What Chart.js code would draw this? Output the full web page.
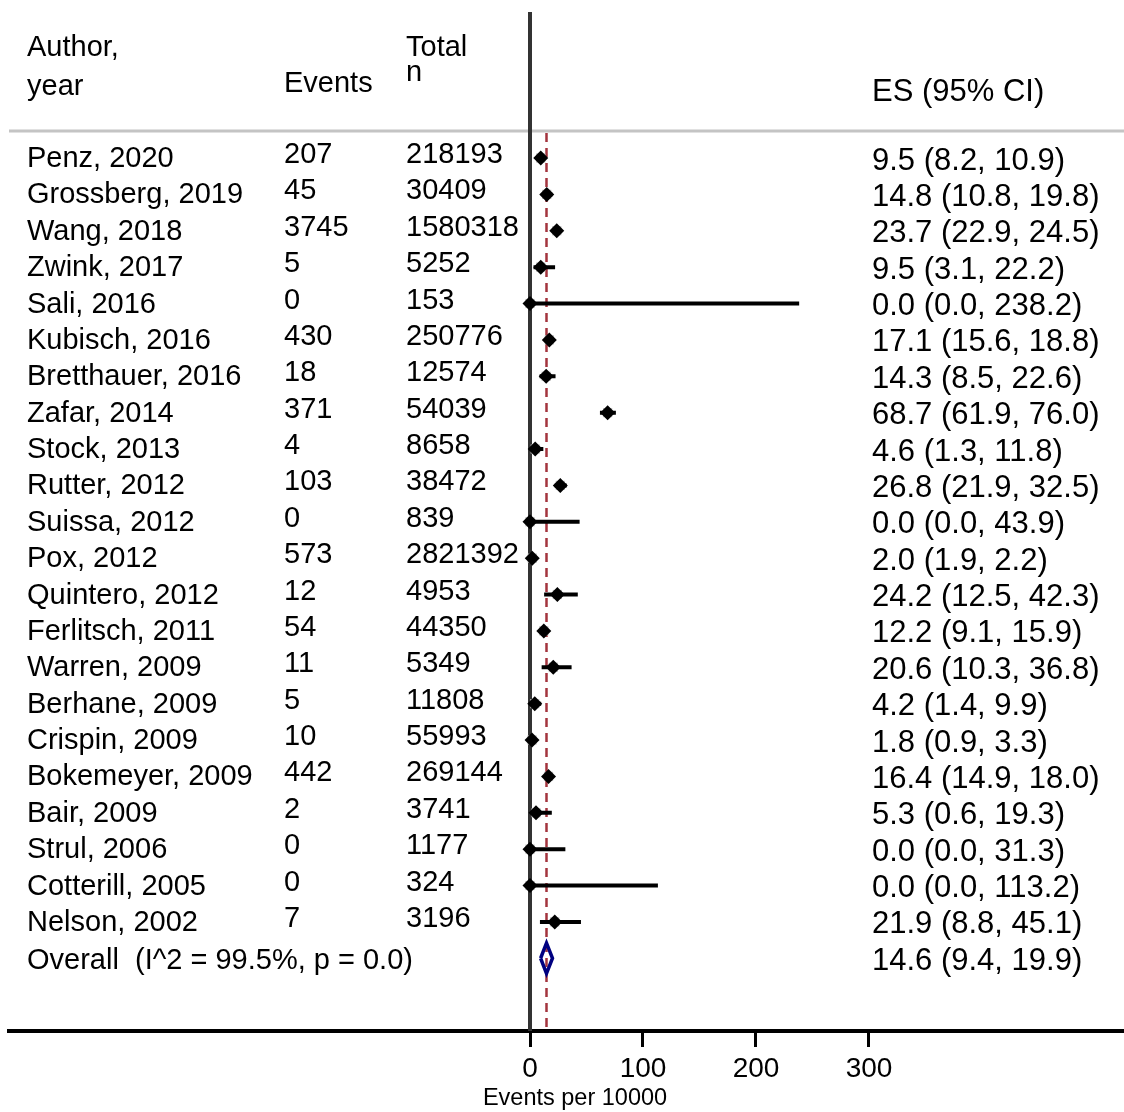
<!DOCTYPE html>
<html>
<head>
<meta charset="utf-8">
<script src="https://cdn.jsdelivr.net/npm/chart.js@4.4.1/dist/chart.umd.min.js"></script>
<style>
  html, body { margin: 0; padding: 0; background: #fff; overflow: hidden; }
  #wrap { width: 1124px; height: 1112px; }
  canvas { display: block; }
</style>
</head>
<body>
<div id="wrap"><canvas id="forest" width="1124" height="1112"></canvas></div>
<script>
// Dados do forest plot
const autores = ["Penz, 2020", "Grossberg, 2019", "Wang, 2018", "Zwink, 2017", "Sali, 2016",
  "Kubisch, 2016", "Bretthauer, 2016", "Zafar, 2014", "Stock, 2013", "Rutter, 2012",
  "Suissa, 2012", "Pox, 2012", "Quintero, 2012", "Ferlitsch, 2011", "Warren, 2009",
  "Berhane, 2009", "Crispin, 2009", "Bokemeyer, 2009", "Bair, 2009", "Strul, 2006",
  "Cotterill, 2005", "Nelson, 2002"];
const eventos = [207, 45, 3745, 5, 0, 430, 18, 371, 4, 103, 0, 573, 12, 54, 11, 5, 10, 442, 2, 0, 0, 7];
const totais = [218193, 30409, 1580318, 5252, 153, 250776, 12574, 54039, 8658, 38472, 839,
  2821392, 4953, 44350, 5349, 11808, 55993, 269144, 3741, 1177, 324, 3196];
const es = [9.5, 14.8, 23.7, 9.5, 0.0, 17.1, 14.3, 68.7, 4.6, 26.8, 0.0, 2.0, 24.2, 12.2, 20.6,
  4.2, 1.8, 16.4, 5.3, 0.0, 0.0, 21.9];
const icInf = [8.2, 10.8, 22.9, 3.1, 0.0, 15.6, 8.5, 61.9, 1.3, 21.9, 0.0, 1.9, 12.5, 9.1, 10.3,
  1.4, 0.9, 14.9, 0.6, 0.0, 0.0, 8.8];
const icSup = [10.9, 19.8, 24.5, 22.2, 238.2, 18.8, 22.6, 76.0, 11.8, 32.5, 43.9, 2.2, 42.3, 15.9,
  36.8, 9.9, 3.3, 18.0, 19.3, 31.3, 113.2, 45.1];
const overallES = 14.6;
const overallInf = 9.4;
const overallSup = 19.9;
const overallLabel = "Overall  (I^2 = 99.5%, p = 0.0)";
const xTicks = [0, 100, 200, 300];
const xTitle = "Events per 10000";

const FONTE = "'Liberation Sans', Arial, Helvetica, sans-serif";
const linhaOverall = autores.length; // índice da linha "Overall"

function fmt(v) { return v.toFixed(1); }

// Pontos para as linhas de IC (separadas por null)
const segmentosIC = [];
autores.forEach((_, i) => {
  segmentosIC.push({ x: icInf[i], y: i });
  segmentosIC.push({ x: icSup[i], y: i });
  segmentosIC.push({ x: icSup[i], y: null });
});

const pontosES = es.map((v, i) => ({ x: v, y: i }));

// Losango do efeito global
const losango = [
  { x: overallInf, y: linhaOverall },
  { x: overallES, y: linhaOverall - 0.42 },
  { x: overallSup, y: linhaOverall },
  { x: overallES, y: linhaOverall + 0.42 },
  { x: overallInf, y: linhaOverall },
];

// Plugin para textos e linhas de referência
const forestPlugin = {
  id: "forestText",
  beforeDatasetsDraw(chart) {
    const ctx = chart.ctx;
    const xs = chart.scales.x;
    const area = chart.chartArea;
    ctx.save();
    // linha cinza sob o cabeçalho
    ctx.strokeStyle = "#c4c4c4";
    ctx.lineWidth = 3;
    ctx.beginPath();
    ctx.moveTo(area.left, 131);
    ctx.lineTo(area.right, 131);
    ctx.stroke();
    // linha vertical no zero
    const x0 = xs.getPixelForValue(0);
    ctx.strokeStyle = "#333333";
    ctx.lineWidth = 4;
    ctx.beginPath();
    ctx.moveTo(x0, 12);
    ctx.lineTo(x0, area.bottom);
    ctx.stroke();
    // linha tracejada do efeito global
    const xo = xs.getPixelForValue(overallES);
    ctx.strokeStyle = "#a3343e";
    ctx.lineWidth = 2.5;
    ctx.setLineDash([9, 6]);
    ctx.beginPath();
    ctx.moveTo(xo, 133);
    ctx.lineTo(xo, area.bottom);
    ctx.stroke();
    ctx.restore();
  },
  afterDraw(chart) {
    const ctx = chart.ctx;
    const ys = chart.scales.y;
    ctx.save();
    ctx.fillStyle = "#000";
    ctx.font = "29px " + FONTE;
    ctx.textAlign = "left";
    ctx.textBaseline = "alphabetic";
    // cabeçalho
    ctx.fillText("Author,", 27, 56);
    ctx.fillText("year", 27, 95);
    ctx.fillText("Events", 284, 92);
    ctx.fillText("Total", 406, 56);
    ctx.fillText("n", 406, 81);
    // linhas dos estudos
    ctx.textBaseline = "middle";
    autores.forEach((a, i) => {
      const y = ys.getPixelForValue(i);
      ctx.fillText(a, 27, y + 1);
      ctx.fillText(String(eventos[i]), 284, y - 3);
      ctx.fillText(String(totais[i]), 406, y - 3);
    });
    const yo = ys.getPixelForValue(linhaOverall);
    ctx.fillText(overallLabel, 27, yo + 3);
    // coluna ES (95% CI)
    ctx.font = "31px " + FONTE;
    ctx.textBaseline = "alphabetic";
    ctx.fillText("ES (95% CI)", 872, 101);
    ctx.textBaseline = "middle";
    autores.forEach((a, i) => {
      const y = ys.getPixelForValue(i);
      ctx.fillText(fmt(es[i]) + " (" + fmt(icInf[i]) + ", " + fmt(icSup[i]) + ")", 872, y + 3);
    });
    ctx.fillText(fmt(overallES) + " (" + fmt(overallInf) + ", " + fmt(overallSup) + ")", 872, yo + 3);
    // título do eixo x
    ctx.font = "23.5px " + FONTE;
    ctx.textAlign = "center";
    ctx.fillText(xTitle, 575, 1099);
    ctx.restore();
  },
};

new Chart(document.getElementById("forest"), {
  type: "scatter",
  data: {
    datasets: [
      {
        label: "ES",
        data: pontosES,
        pointStyle: "rectRot",
        pointRadius: 7.5,
        backgroundColor: "#000",
        borderColor: "#000",
        borderWidth: 0,
        order: 1,
      },
      {
        label: "IC",
        type: "line",
        data: segmentosIC,
        borderColor: "#000",
        borderWidth: 4,
        pointRadius: 0,
        spanGaps: false,
        fill: false,
        order: 2,
      },
      {
        label: "peso",
        data: pontosES,
        pointStyle: "rect",
        pointRadius: 6.5,
        backgroundColor: "#bcbcbc",
        borderWidth: 0,
        order: 3,
      },
      {
        label: "Overall",
        type: "line",
        data: losango,
        borderColor: "#000080",
        borderWidth: 3.5,
        pointRadius: 0,
        fill: false,
        tension: 0,
        order: 0,
      },
    ],
  },
  options: {
    responsive: false,
    animation: false,
    layout: { autoPadding: false, padding: { left: 9, right: 0, top: 0, bottom: 0 } },
    plugins: { legend: { display: false }, tooltip: { enabled: false } },
    scales: {
      x: {
        type: "linear",
        min: (9 - 530) / 1.13,
        max: (1124 - 530) / 1.13,
        afterBuildTicks: (scale) => { scale.ticks = xTicks.map((v) => ({ value: v })); },
        afterFit: (scale) => { scale.height = 81; },
        border: { display: true, color: "#000", width: 4 },
        grid: { drawOnChartArea: false, drawTicks: true, tickLength: 16, tickWidth: 3, tickColor: "#000" },
        ticks: { color: "#000", padding: 5, maxRotation: 0, font: { size: 28, family: FONTE } },
      },
      y: {
        type: "linear",
        display: false,
        reverse: true,
        min: -158 / 36.375,
        max: 24,
      },
    },
  },
  plugins: [forestPlugin],
});
</script>
</body>
</html>
